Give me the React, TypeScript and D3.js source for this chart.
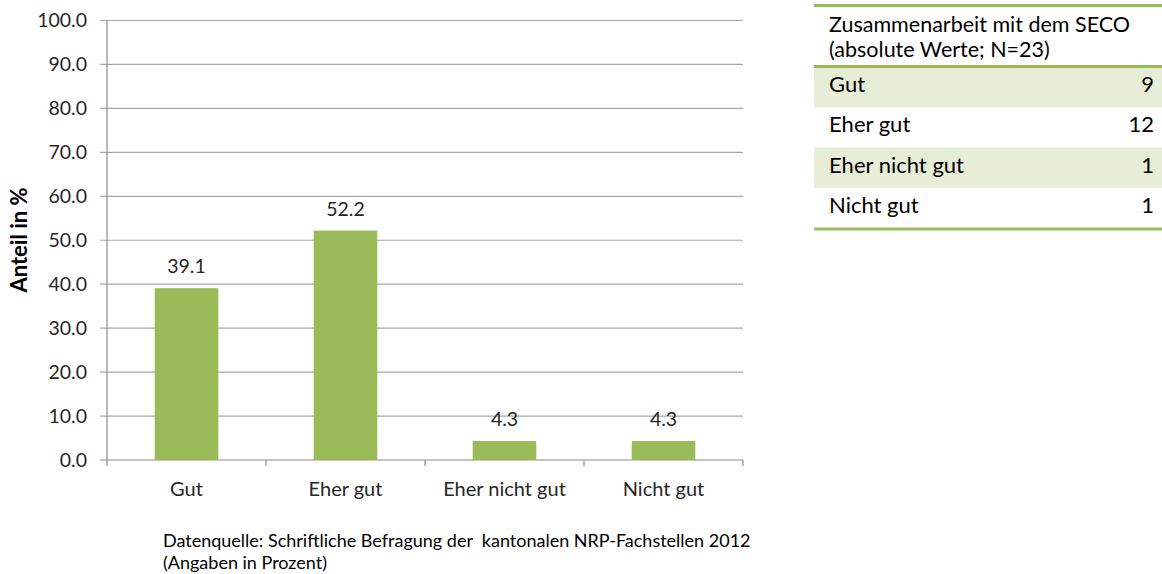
import React from "react";
import * as d3 from "d3";

const categories = ["Gut", "Eher gut", "Eher nicht gut", "Nicht gut"];
const percentValues = [39.1, 52.2, 4.3, 4.3];
const absoluteValues = [9, 12, 1, 1];
const yTicks = [0, 10, 20, 30, 40, 50, 60, 70, 80, 90, 100];
const yAxisTitle = "Anteil in %";
const tableTitleLines = ["Zusammenarbeit mit dem SECO", "(absolute Werte; N=23)"];
const footnoteLines = [
  "Datenquelle: Schriftliche Befragung der  kantonalen NRP-Fachstellen 2012",
  "(Angaben in Prozent)",
];

const FONT = "Lato, 'Open Sans', sans-serif";
const GREEN = "#9bbb59";
const SHADE = "#e6eed8";

export default function App() {
  const left = 107;
  const right = 743;
  const top = 20.5;
  const bottom = 460;

  const x = d3
    .scaleBand<string>()
    .domain(categories)
    .range([left, right])
    .paddingInner(0.6)
    .paddingOuter(0.3);
  const y = d3.scaleLinear().domain([0, 100]).range([bottom, top]);
  const step = x.step();
  const boundaries = d3.range(categories.length + 1).map((i) => left + i * step);

  // table
  const tX0 = 814;
  const tX1 = 1162;
  const rowTop = 67;
  const rowH = 40.3;

  return (
    <svg width={1162} height={574} style={{ position: "absolute", left: 0, top: 0, background: "#fff" }}>
      {/* gridlines */}
      {yTicks.map((t) => (
        <g key={t}>
          <line x1={left - 7} x2={right} y1={y(t)} y2={y(t)} stroke={t === 0 ? "#8c8c8c" : "#a6a6a6"} strokeWidth={1.2} />
          <text x={87} y={y(t)} dy="0.35em" textAnchor="end" fontFamily={FONT} fontSize={19.5} fill="#262626">
            {t.toFixed(1)}
          </text>
        </g>
      ))}
      {/* y axis line */}
      <line x1={left} x2={left} y1={top} y2={bottom} stroke="#8c8c8c" strokeWidth={1.2} />
      {/* x ticks */}
      {boundaries.map((b, i) => (
        <line key={i} x1={b} x2={b} y1={bottom} y2={bottom + 6} stroke="#8c8c8c" strokeWidth={1.2} />
      ))}
      {/* bars */}
      {categories.map((c, i) => (
        <g key={c}>
          <rect x={x(c)} y={y(percentValues[i])} width={x.bandwidth()} height={bottom - y(percentValues[i])} fill={GREEN} />
          <text
            x={(x(c) as number) + x.bandwidth() / 2}
            y={y(percentValues[i]) - 15}
            textAnchor="middle"
            fontFamily={FONT}
            fontSize={19.5}
            fill="#262626"
          >
            {percentValues[i].toFixed(1)}
          </text>
          <text
            x={(x(c) as number) + x.bandwidth() / 2}
            y={496}
            textAnchor="middle"
            fontFamily={FONT}
            fontSize={20}
            fill="#262626"
          >
            {c}
          </text>
        </g>
      ))}
      {/* y axis title */}
      <text
        transform={`translate(27,240) rotate(-90)`}
        textAnchor="middle"
        fontFamily={FONT}
        fontWeight="bold"
        fontSize={22}
        fill="#000"
      >
        {yAxisTitle}
      </text>
      {/* footnote */}
      {footnoteLines.map((l, i) => (
        <text key={i} x={163} y={547 + i * 22} fontFamily={FONT} fontSize={18} fill="#000" style={{ whiteSpace: "pre" }}>
          {l}
        </text>
      ))}
      {/* table */}
      {categories.map((c, i) => (
        <g key={c}>
          {i % 2 === 0 && <rect x={tX0} y={rowTop + i * rowH} width={tX1 - tX0} height={rowH} fill={SHADE} />}
          <text x={829} y={rowTop + i * rowH + 25} fontFamily={FONT} fontSize={22} fill="#000">
            {c}
          </text>
          <text x={1154} y={rowTop + i * rowH + 25} textAnchor="end" fontFamily={FONT} fontSize={22} fill="#000">
            {absoluteValues[i]}
          </text>
        </g>
      ))}
      {tableTitleLines.map((l, i) => (
        <text key={i} x={829} y={32 + i * 25} fontFamily={FONT} fontSize={21.5} fill="#000">
          {l}
        </text>
      ))}
      <line x1={tX0} x2={tX1} y1={5.5} y2={5.5} stroke={GREEN} strokeWidth={3} />
      <line x1={tX0} x2={tX1} y1={66.5} y2={66.5} stroke={GREEN} strokeWidth={3} />
      <line x1={tX0} x2={tX1} y1={229} y2={229} stroke={GREEN} strokeWidth={3} />
    </svg>
  );
}
